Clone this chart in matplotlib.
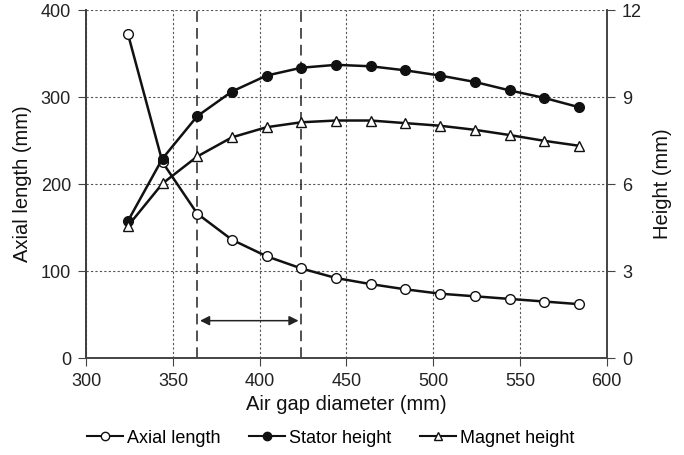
import matplotlib.pyplot as plt
from matplotlib.lines import Line2D

plt.rcParams['font.family'] = ['Liberation Sans', 'DejaVu Sans']

# данные
diameter = [324, 344, 364, 384, 404, 424, 444, 464, 484, 504, 524, 544, 564, 584]
axial_length = [373, 225, 166, 136, 117, 103, 92, 85, 79, 74, 71, 68, 65, 62]
stator_height = [4.72, 6.88, 8.34, 9.19, 9.74, 10.01, 10.11, 10.06, 9.92, 9.74, 9.52, 9.23, 8.97, 8.65]
magnet_height = [4.55, 6.02, 6.95, 7.61, 7.96, 8.13, 8.19, 8.19, 8.10, 8.01, 7.87, 7.69, 7.49, 7.32]
range_lo, range_hi = 364, 424
arrow_y = 43

fig = plt.figure(figsize=(6.84, 4.55), dpi=100)
ax = fig.add_axes([0.126, 0.213, 0.761, 0.765])
ax2 = ax.twinx()

spine_col = '#444444'
for a in (ax, ax2):
    a.spines['top'].set_visible(False)
    for s in ('left', 'right', 'bottom'):
        a.spines[s].set_color(spine_col)
        a.spines[s].set_linewidth(1.2)
    a.tick_params(direction='out', length=6, pad=5, color=spine_col, labelsize=13, labelcolor='#222222')
ax.spines['left'].set_color('#111111')

# сетка
ax.set_axisbelow(True)
ax.grid(True, linestyle=(0, (2, 2)), color='#555555', linewidth=0.8)

ax.set_xlim(300, 600)
ax.set_ylim(0, 400)
ax2.set_ylim(0, 12)
ax.set_xticks(range(300, 601, 50))
ax.set_yticks(range(0, 401, 100))
ax2.set_yticks(range(0, 13, 3))

# пунктирные вертикали и стрелка
for xv in (range_lo, range_hi):
    ax.axvline(xv, color='#222222', linestyle=(0, (7, 4)), linewidth=1.1)
ax.annotate('', xy=(range_lo, arrow_y), xytext=(range_hi, arrow_y),
            arrowprops=dict(arrowstyle='<|-|>', color='#222222', lw=1.1, mutation_scale=14))

lw = 1.8
ax.plot(diameter, axial_length, color='#111111', lw=lw, marker='o', ms=7,
        mfc='white', mec='#111111', mew=1.0, zorder=5)
ax2.plot(diameter, stator_height, color='#111111', lw=lw, marker='o', ms=7,
         mfc='#111111', mec='#111111', zorder=5)
ax2.plot(diameter, magnet_height, color='#111111', lw=lw, marker='^', ms=7,
         mfc='white', mec='#111111', mew=1.0, zorder=5)

ax.set_xlabel('Air gap diameter (mm)', fontsize=14.5, color='#111111', labelpad=3)
ax.set_ylabel('Axial length (mm)', fontsize=14.5, color='#111111', labelpad=6)
ax2.set_ylabel('Height (mm)', fontsize=14.5, color='#111111', labelpad=8)

handles = [
    Line2D([], [], color='#111111', lw=1.5, marker='o', ms=6, mfc='white', mec='#111111'),
    Line2D([], [], color='#111111', lw=1.5, marker='o', ms=6, mfc='#111111', mec='#111111'),
    Line2D([], [], color='#111111', lw=1.5, marker='^', ms=6, mfc='white', mec='#111111'),
]
fig.legend(handles, ['Axial length', 'Stator height', 'Magnet height'],
           loc='center', bbox_to_anchor=(0.483, 0.037), ncol=3, frameon=False,
           fontsize=13, handlelength=2.0, handletextpad=0.2, columnspacing=1.6)

fig.savefig('out.png', dpi=100)
